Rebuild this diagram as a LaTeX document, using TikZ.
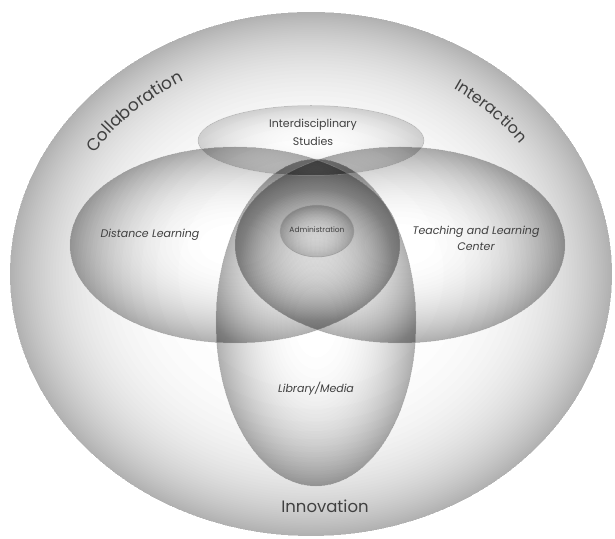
\documentclass[tikz,border=0pt]{standalone}
\usepackage{fontspec}
\setmainfont{Poppins}
\usetikzlibrary{decorations.text}
% soft shaded ellipse: stacked translucent black rings (acts like multiply)
% #1,#2 centre; #3,#4 radii; #5 darkness at rim; #6 profile power
\newcommand\softblob[6]{%
  \pgfmathsetmacro\blobalpha{1-exp(-#5/40)}%
  \foreach \i in {1,...,39}{%
    \pgfmathsetmacro\blobrr{(\i/40)^(1/#6)}%
    \pgfmathsetmacro\blobrx{\blobrr*#3}%
    \pgfmathsetmacro\blobry{\blobrr*#4}%
    \fill[black, fill opacity=\blobalpha, even odd rule]
      (#1,#2) ellipse[x radius=#3pt, y radius=#4pt]
      (#1,#2) ellipse[x radius=\blobrx pt, y radius=\blobry pt];
  }%
}
\begin{document}
\begin{tikzpicture}[x=1pt,y=1pt,
  rim/.style={draw=black!38, line width=0.5pt},
  lbl/.style={font=\itshape\fontsize{11}{16}\selectfont, text=black!75, align=center, inner sep=0pt},
  ulbl/.style={font=\fontsize{11}{18}\selectfont, text=black!75, align=center, inner sep=0pt},
  big/.style={font=\fontsize{16.5}{18}\selectfont, text=black!75, inner sep=0pt}]
\useasboundingbox (0,0) rectangle (615,538);
\fill[white] (0,0) rectangle (615,538);
% outer circle
\softblob{311}{264}{301}{262}{0.25}{4.5}
% Distance Learning, Teaching and Learning Center, Library/Media
\softblob{235}{293}{165}{98}{0.32}{2.4}
\softblob{400}{293}{165}{98}{0.32}{2.4}
\softblob{316}{215.5}{100}{163.5}{0.32}{2.4}
% Interdisciplinary Studies, Administration
\softblob{311}{397.5}{113}{35}{0.17}{2.2}
\softblob{317}{307}{37}{26}{0.2}{2}
\path[rim, draw opacity=0.5] (235,293) ellipse[x radius=165pt, y radius=98pt];
\path[rim, draw opacity=0.5] (400,293) ellipse[x radius=165pt, y radius=98pt];
\path[rim, draw opacity=0.5] (316,215.5) ellipse[x radius=100pt, y radius=163.5pt];
\path[rim, draw opacity=0.5] (311,397.5) ellipse[x radius=113pt, y radius=35pt];
\path[rim] (317,307) ellipse[x radius=37pt, y radius=26pt];
\coordinate (C) at (311,264);
\path[decorate, decoration={text along path, text align=center,
  text={|\fontsize{17}{17}\selectfont\color{black!75}|Collaboration}}]
  ([shift={(152:258 and 222)}]C) arc[start angle=152, end angle=115, x radius=258pt, y radius=222pt];
\path[decorate, decoration={text along path, text align=center,
  text={|\fontsize{16}{16}\selectfont\color{black!75}|Interaction}}]
  ([shift={(62:258 and 222)}]C) arc[start angle=62, end angle=30, x radius=258pt, y radius=222pt];
\node[ulbl] (inter) at (313,406) {Interdisciplinary\\Studies};
\node[lbl] (dist) at (150,303) {Distance Learning};
\node[lbl] (tlc) at (476,300) {Teaching and Learning\\Center};
\node[ulbl, font=\fontsize{7.5}{8}\selectfont] (admin) at (317,308) {Administration};
\node[lbl] (lib) at (316,149) {Library/Media};
\node[big] (innov) at (325,32) {Innovation};
\end{tikzpicture}
\end{document}
